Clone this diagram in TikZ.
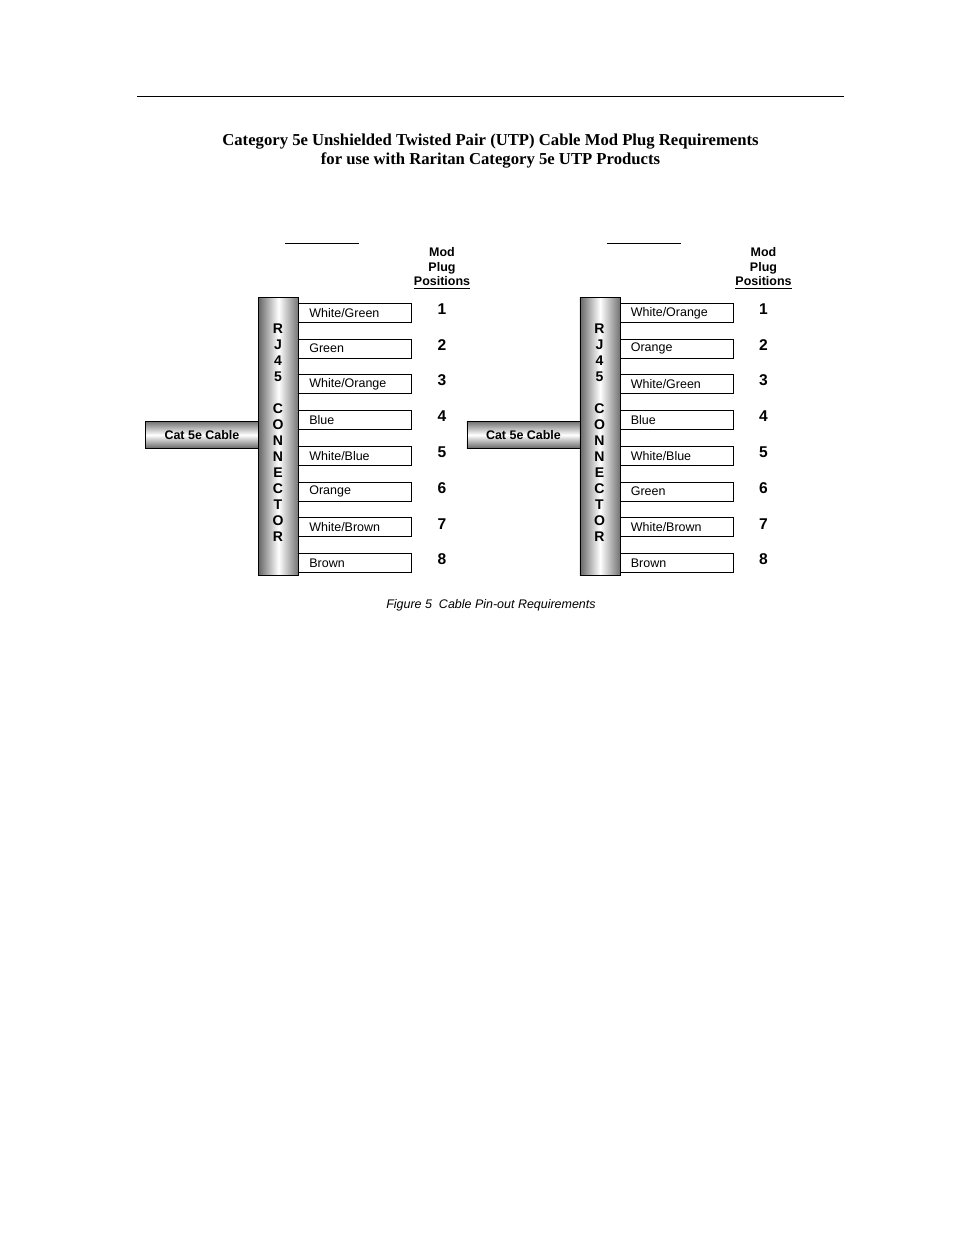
\documentclass[tikz,border=0pt]{standalone}
\usepackage{fontspec}
\setmainfont{Liberation Serif}
\setsansfont{Liberation Sans}
\newcommand{\drawside}[3]{%
  % #1 = name prefix, #2 = x offset, #3 = list of wire colours
  \coordinate (#1-ulA) at (285+#2,243);
  \coordinate (#1-ulB) at (359+#2,243);
  \draw[rulestyle] (#1-ulA) -- (#1-ulB);
  \node[hdrstyle] (#1-hdr) at (442+#2,268.5) {Mod\\Plug\\\underline{Positions}};
  \node[cablestyle, anchor=north west] (#1-cable) at (145+#2,421) {Cat 5e Cable};
  \node[connstyle, anchor=north west] (#1-conn) at (258+#2,297) {};
  \foreach \l [count=\k from 0] in {R,J,4,5}
    \node[letstyle] (#1-let\k) at (278+#2,328.5+16.05*\k) {\l};
  \foreach \l [count=\k from 5] in {C,O,N,N,E,C,T,O,R}
    \node[letstyle] (#1-let\k) at (278+#2,328.5+16.05*\k) {\l};
  \foreach \c [count=\i] in {#3} {
    \node[pinstyle, anchor=north west] (#1-pin\i) at (298+#2,303+35.72*\i-35.72) {\c};
    \node[numstyle] (#1-num\i) at (442+#2,309+35.8*\i-35.8) {\i};
  }
}
\begin{document}
\begin{tikzpicture}[x=0.6415pt,y=-0.6415pt,
  rulestyle/.style={line width=0.6pt},
  hdrstyle/.style={font=\sffamily\bfseries\fontsize{8}{9.3}\selectfont, align=center, inner sep=0pt},
  cablestyle/.style={draw=black, line width=0.6pt, top color=black!55, bottom color=black!60, middle color=white,
    minimum width=72.5pt, minimum height=17.3pt, inner sep=0pt,
    font=\sffamily\bfseries\fontsize{8}{9}\selectfont},
  connstyle/.style={draw=black, line width=0.6pt, left color=black!60, right color=black!55, middle color=white,
    minimum width=25.7pt, minimum height=178.3pt, inner sep=0pt},
  letstyle/.style={font=\sffamily\bfseries\fontsize{9}{10}\selectfont, inner sep=0pt},
  pinstyle/.style={draw=black, line width=0.6pt, fill=white, minimum height=12.2pt, inner ysep=0pt,
    inner xsep=7pt, text width=58.5pt, align=left, font=\sffamily\fontsize{8}{9}\selectfont},
  numstyle/.style={font=\sffamily\bfseries\fontsize{10}{11}\selectfont, inner sep=0pt},
  titlestyle/.style={font=\bfseries\fontsize{10.7}{12.2}\selectfont, align=center, inner sep=0pt},
  capstyle/.style={font=\sffamily\itshape\fontsize{8}{9}\selectfont, inner sep=0pt}
]
\useasboundingbox (0,0) rectangle (954,1235);
\fill[white] (0,0) rectangle (954,1235);
\coordinate (hrA) at (137,96);
\coordinate (hrB) at (844,96);
\draw[rulestyle] (hrA) -- (hrB);
\node[titlestyle] (title) at (490.5,151) {Category 5e Unshielded Twisted Pair (UTP) Cable Mod Plug Requirements\\for use with Raritan Category 5e UTP Products};
\drawside{L}{0}{White/Green,Green,White/Orange,Blue,White/Blue,Orange,White/Brown,Brown}
\drawside{R}{321.5}{White/Orange,Orange,White/Green,Blue,White/Blue,Green,White/Brown,Brown}
\node[capstyle] (caption) at (491,605) {Figure 5\ \ Cable Pin-out Requirements};
\end{tikzpicture}
\end{document}
